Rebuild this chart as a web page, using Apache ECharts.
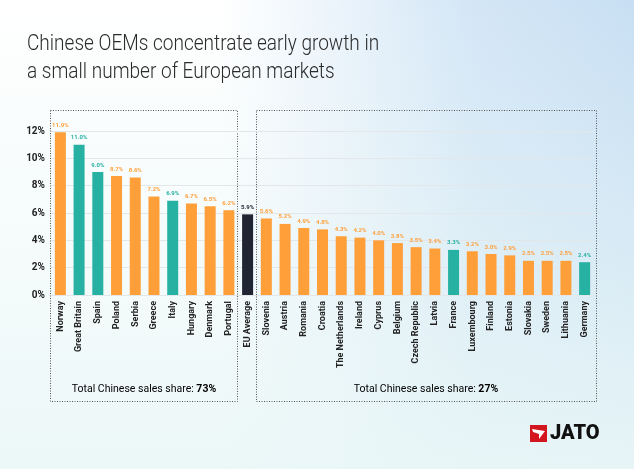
<!DOCTYPE html>
<html>
<head>
<meta charset="utf-8">
<title>Chinese OEMs</title>
<style>
  html, body { margin: 0; padding: 0; }
  #chart {
    width: 634px; height: 469px;
    background:
      linear-gradient(180deg, rgba(255,255,255,0) 0%, rgba(234,247,247,0.9) 100%),
      linear-gradient(90deg, #ffffff 0%, #ffffff 35%, #d3e6f6 75%, #c8dff3 100%);
  }
</style>
</head>
<body>
<div id="chart"></div>
<script src="https://cdn.jsdelivr.net/npm/echarts@6/dist/echarts.min.js"></script>
<script>
var countries = ['Norway', 'Great Britain', 'Spain', 'Poland', 'Serbia', 'Greece', 'Italy', 'Hungary', 'Denmark', 'Portugal',
  'EU Average',
  'Slovenia', 'Austria', 'Romania', 'Croatia', 'The Netherlands', 'Ireland', 'Cyprus', 'Belgium', 'Czech Republic', 'Latvia',
  'France', 'Luxembourg', 'Finland', 'Estonia', 'Slovakia', 'Sweden', 'Lithuania', 'Germany'];
var shares = [11.9, 11.0, 9.0, 8.7, 8.6, 7.2, 6.9, 6.7, 6.5, 6.2,
  5.9,
  5.6, 5.2, 4.9, 4.8, 4.3, 4.2, 4.0, 3.8, 3.5, 3.4,
  3.3, 3.2, 3.0, 2.9, 2.5, 2.5, 2.5, 2.4];
var teal = ['Great Britain', 'Spain', 'Italy', 'France', 'Germany'];
var yTicks = [0, 2, 4, 6, 8, 10, 12];
var groupTotals = ['73%', '27%'];

var ORANGE = '#ff9f3a', TEAL = '#27b1a3', DARK = '#1f2533';

function barColor(name) {
  if (name === 'EU Average') return DARK;
  return teal.indexOf(name) >= 0 ? TEAL : ORANGE;
}

var data = countries.map(function (c, i) {
  var col = barColor(c);
  return {
    value: shares[i],
    itemStyle: { color: col },
    label: { color: col }
  };
});

function totalText(x, v) {
  return {
    type: 'text', x: x, y: 389,
    style: {
      text: '{a|Total Chinese sales share: }{b|' + v + '}',
      align: 'center', verticalAlign: 'middle',
      rich: {
        a: { fontFamily: 'Roboto', fontSize: 10.5, color: '#6b6b6b' },
        b: { fontFamily: 'Roboto', fontSize: 10.5, fontWeight: 'bold', color: '#333' }
      }
    }
  };
}

var chart = echarts.init(document.getElementById('chart'));
var option = {
  backgroundColor: 'transparent',
  grid: { left: 51, right: 40, top: 131, bottom: 174 },
  xAxis: {
    type: 'category',
    data: countries,
    axisLine: { show: false },
    axisTick: { show: false },
    axisLabel: {
      rotate: 90, interval: 0, margin: 6,
      fontFamily: 'Roboto', fontWeight: 'bold', fontSize: 9, color: '#222'
    }
  },
  yAxis: {
    type: 'value', min: 0, max: 12, interval: 2,
    axisLabel: {
      formatter: function (v) { return yTicks.indexOf(v) >= 0 ? v + '%' : ''; },
      fontFamily: 'Roboto', fontWeight: 'bold', fontSize: 10, color: '#222', margin: 6
    },
    splitLine: { lineStyle: { color: '#e3e7ea', width: 1 } }
  },
  series: [{
    type: 'bar',
    data: data,
    barWidth: 11,
    label: {
      show: true, position: 'top', distance: 4,
      formatter: function (p) { return p.value.toFixed(1) + '%'; },
      fontFamily: 'Roboto', fontWeight: 'bold', fontSize: 6
    }
  }],
  graphic: [
    {
      type: 'text', x: 27, y: 30, scaleX: 0.865,
      style: {
        text: 'Chinese OEMs concentrate early growth in\na small number of European markets',
        fontFamily: 'Roboto', fontWeight: 300, fontSize: 22, lineHeight: 28, fill: '#2b2b2b'
      }
    },
    {
      type: 'rect', shape: { x: 50.5, y: 110.5, width: 187, height: 291 },
      style: { fill: 'none', stroke: '#555', lineWidth: 1, lineDash: [1, 1.5] }
    },
    {
      type: 'rect', shape: { x: 256.5, y: 110.5, width: 340, height: 291 },
      style: { fill: 'none', stroke: '#555', lineWidth: 1, lineDash: [1, 1.5] }
    },
    totalText(144, groupTotals[0]),
    totalText(426, groupTotals[1]),
    {
      type: 'rect', shape: { x: 530, y: 425, width: 17, height: 17 },
      style: { fill: '#d3151f' }
    },
    {
      type: 'polygon',
      shape: { points: [[532, 429], [545, 431], [539, 439], [539, 434], [533, 432]] },
      style: { fill: '#fff' }
    },
    {
      type: 'text', x: 550, y: 433.5,
      style: {
        text: 'JATO', verticalAlign: 'middle',
        fontFamily: 'Roboto', fontWeight: 900, fontSize: 20, fill: '#111'
      }
    }
  ]
};
chart.setOption(option);
</script>
</body>
</html>
